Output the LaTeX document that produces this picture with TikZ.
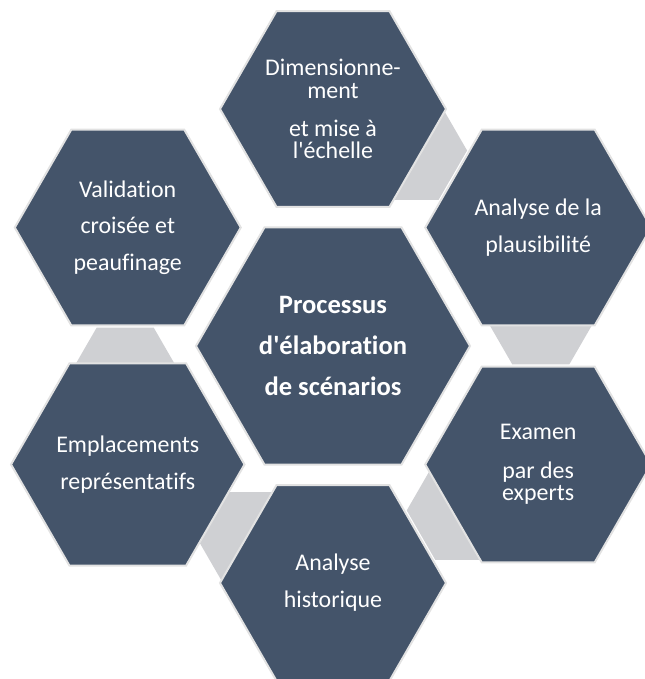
\documentclass[tikz,border=0pt]{standalone}
\usepackage{fontspec}
\setmainfont{Carlito}[Ligatures={TeX,NoCommon}]
\usetikzlibrary{shapes.geometric}

\definecolor{hexblue}{HTML}{44546A}
\definecolor{linkgrey}{HTML}{CFD0D3}
\definecolor{rimgrey}{HTML}{E2E2E2}

\begin{document}
\begin{tikzpicture}[line width=1.5pt]

    \tikzset{hexagon/.style={%
      regular polygon,%
      regular polygon sides=6,%
      draw=rimgrey,%
      fill=hexblue,%
      text=white,%
      inner sep=0pt,%
      align=center,%
      minimum size=5.98cm,%
      font=\fontsize{18}{17}\selectfont}%
    };

    \tikzset{bighexagon/.style={hexagon, minimum size=7.25cm, font=\fontsize{20}{30.75}\selectfont\bfseries}};

    \tikzset{link/.style={regular polygon, regular polygon sides=6, fill=linkgrey, inner sep=0pt, minimum size=3.02cm}};

    \useasboundingbox (-8.811,-8.811) rectangle (8.255,9.155);

    %%%%%%%%%%%%%%%
    %    links    %
    %%%%%%%%%%%%%%%
    \node [link] (dimpla) at (68.5:5.56) {};
    \node [link] (plaexa) at (8.5:5.56) {};
    \node [link] (exahis) at (308.5:5.56) {};
    \node [link] (hisemp) at (248.5:5.56) {};
    \node [link] (empval) at (188.5:5.56) {};

    %%%%%%%%%%%%%%%
    %  hexagons   %
    %%%%%%%%%%%%%%%
    \node [bighexagon] (ctr) at (0,0) {Processus\\d\textquotesingle élaboration\\de scénarios};
    \node [hexagon] (dim) at (90:6.27) {Dimensionne-\\ment\\[11.5pt]et mise à\\l\textquotesingle échelle};
    \node [hexagon] (pla) at (30:6.27) {Analyse de la\\[11pt]plausibilité};
    \node [hexagon] (exa) at (-30:6.27) {Examen\\[12pt]par des\\experts};
    \node [hexagon] (his) at (-90:6.27) {Analyse\\[11pt]historique};
    \node [hexagon] (emp) at (-150:6.27) {Emplacements\\[11pt]représentatifs};
    \node [hexagon] (val) at (150:6.27) {Validation\\[10.5pt]croisée et\\[10.5pt]peaufinage};

  \end{tikzpicture}
\end{document}
